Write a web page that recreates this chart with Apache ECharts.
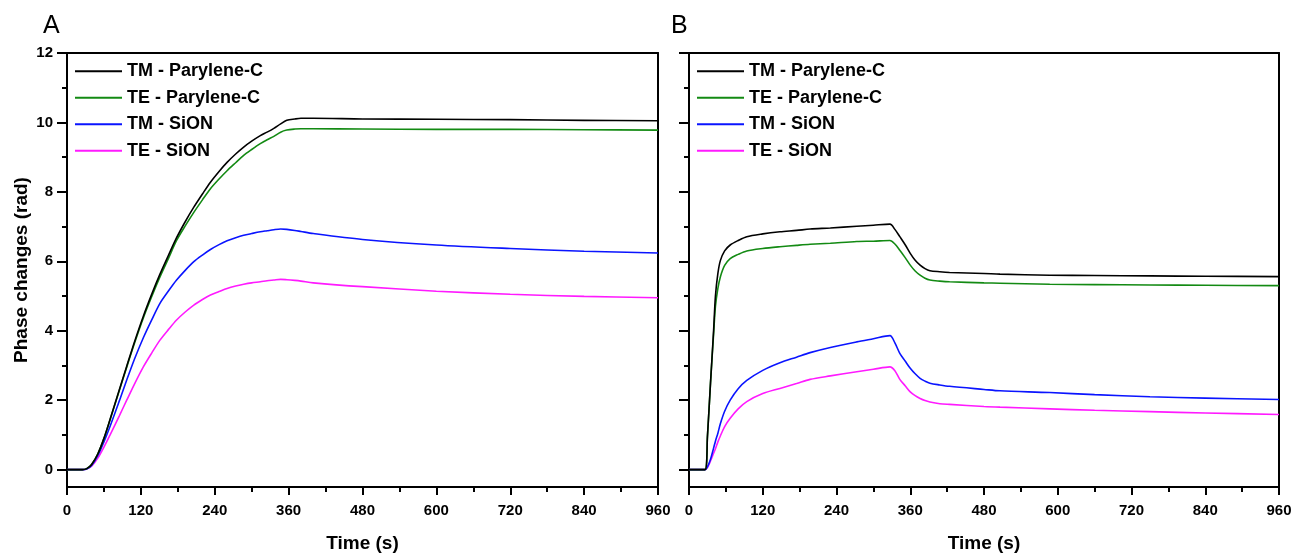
<!DOCTYPE html>
<html>
<head>
<meta charset="utf-8">
<script src="https://cdn.jsdelivr.net/npm/echarts@6/dist/echarts.min.js"></script>
<style>
html,body{margin:0;padding:0;background:#fff;}
#chart{width:1293px;height:553px;}
</style>
</head>
<body>
<div id="chart"></div>
<script>
// ---------- Data ----------
const seriesNames = ['TM - Parylene-C', 'TE - Parylene-C', 'TM - SiON', 'TE - SiON'];
const xTicks = [0, 120, 240, 360, 480, 600, 720, 840, 960];
const yTicks = [0, 2, 4, 6, 8, 10, 12];
const yMinorTicks = [1, 3, 5, 7, 9, 11];

// Panel A time (s)
const tA = [0, 25, 32, 40, 50, 60, 70, 85, 97, 110, 124, 138, 151, 165, 178, 192, 206, 220, 233, 247, 260, 274, 287, 300, 314, 325, 336, 347, 357, 370, 380, 400, 480, 600, 720, 840, 960];
const tmParyleneA = [0, 0, 0.03, 0.15, 0.45, 0.9, 1.45, 2.3, 2.98, 3.7, 4.42, 5.07, 5.63, 6.18, 6.68, 7.14, 7.56, 7.94, 8.28, 8.59, 8.85, 9.09, 9.29, 9.46, 9.62, 9.72, 9.83, 9.96, 10.06, 10.1, 10.12, 10.12, 10.1, 10.09, 10.08, 10.06, 10.05];
const teParyleneA = [0, 0, 0.03, 0.15, 0.45, 0.9, 1.44, 2.28, 2.95, 3.66, 4.37, 5.0, 5.55, 6.09, 6.6, 7.02, 7.41, 7.77, 8.09, 8.37, 8.61, 8.84, 9.05, 9.22, 9.39, 9.5, 9.6, 9.72, 9.78, 9.81, 9.82, 9.82, 9.81, 9.8, 9.8, 9.79, 9.78];
const tmSiONA = [0, 0, 0.02, 0.12, 0.4, 0.8, 1.25, 1.98, 2.58, 3.2, 3.8, 4.33, 4.79, 5.15, 5.46, 5.74, 5.99, 6.18, 6.34, 6.48, 6.59, 6.68, 6.75, 6.8, 6.85, 6.88, 6.91, 6.93, 6.92, 6.89, 6.86, 6.8, 6.63, 6.47, 6.37, 6.29, 6.24];
const teSiONA = [0, 0, 0.02, 0.1, 0.33, 0.65, 1.0, 1.55, 2.0, 2.48, 2.96, 3.37, 3.73, 4.04, 4.31, 4.54, 4.74, 4.9, 5.03, 5.13, 5.22, 5.29, 5.34, 5.38, 5.41, 5.44, 5.46, 5.48, 5.47, 5.45, 5.43, 5.38, 5.27, 5.14, 5.05, 4.99, 4.95];

// Panel B time (s)
const tB = [0, 26, 30, 35, 40, 43, 47, 51, 58, 67, 80, 94, 120, 148, 175, 197, 230, 273, 300, 327, 335, 343, 352, 360, 368, 376, 384, 392, 408, 424, 480, 506, 587, 660, 750, 840, 960];
const tmParyleneB = [0, 0, 0.95, 2.5, 4.0, 5.0, 5.65, 6.02, 6.3, 6.47, 6.6, 6.71, 6.79, 6.85, 6.89, 6.93, 6.96, 7.01, 7.04, 7.07, 6.92, 6.71, 6.47, 6.23, 6.03, 5.89, 5.79, 5.73, 5.7, 5.68, 5.65, 5.63, 5.6, 5.59, 5.58, 5.57, 5.56];
const teParyleneB = [0, 0, 0.95, 2.5, 3.9, 4.7, 5.22, 5.55, 5.88, 6.08, 6.2, 6.3, 6.37, 6.42, 6.46, 6.49, 6.52, 6.57, 6.58, 6.6, 6.5, 6.32, 6.1, 5.89, 5.72, 5.6, 5.51, 5.46, 5.43, 5.41, 5.38, 5.37, 5.34, 5.33, 5.32, 5.31, 5.3];
const tmSiONB = [0, 0, 0.08, 0.3, 0.62, 0.82, 1.05, 1.32, 1.68, 2.0, 2.33, 2.57, 2.86, 3.08, 3.24, 3.37, 3.52, 3.68, 3.77, 3.86, 3.65, 3.35, 3.12, 2.92, 2.76, 2.63, 2.55, 2.49, 2.44, 2.4, 2.31, 2.27, 2.22, 2.16, 2.1, 2.06, 2.02];
const teSiONB = [0, 0, 0.06, 0.25, 0.47, 0.6, 0.8, 0.97, 1.24, 1.48, 1.75, 1.96, 2.19, 2.34, 2.48, 2.6, 2.7, 2.82, 2.89, 2.96, 2.85, 2.6, 2.41, 2.24, 2.13, 2.05, 1.99, 1.95, 1.9, 1.88, 1.82, 1.8, 1.75, 1.71, 1.67, 1.63, 1.59];

const colors = ['#000000', '#138a13', '#0a14ff', '#ff1aff'];

// ---------- Chart ----------
const FONT = '"Liberation Sans", Arial, Helvetica, sans-serif';
const zip = (t, v) => t.map((x, i) => [x, v[i]]);
const panelA = [tmParyleneA, teParyleneA, tmSiONA, teSiONA];
const panelB = [tmParyleneB, teParyleneB, tmSiONB, teSiONB];

const chart = echarts.init(document.getElementById('chart'), null, {renderer: 'canvas'});

const axisLine = {show: true, onZero: false, lineStyle: {color: '#000', width: 2}};
function xBottom(grid) {
  return {
    type: 'value', gridIndex: grid, position: 'bottom', min: 0, max: 960, interval: 120,
    axisLine: axisLine,
    axisTick: {show: true, length: 8, lineStyle: {color: '#000', width: 2}},
    minorTick: {show: true, splitNumber: 2, length: 5, lineStyle: {color: '#000', width: 2}},
    axisLabel: {color: '#000', fontFamily: FONT, fontWeight: 'bold', fontSize: 15, margin: 16, hideOverlap: false, showMinLabel: true, showMaxLabel: true},
    splitLine: {show: false},
    name: 'Time (s)', nameLocation: 'middle', nameGap: 47,
    nameTextStyle: {color: '#000', fontFamily: FONT, fontWeight: 'bold', fontSize: 19}
  };
}
function xTop(grid) {
  return {
    type: 'value', gridIndex: grid, position: 'top', min: 0, max: 960,
    axisLine: axisLine, axisTick: {show: false}, axisLabel: {show: false}, splitLine: {show: false}
  };
}
function yLeft(grid, withLabels) {
  return {
    type: 'value', gridIndex: grid, position: 'left', min: -0.5, max: 12,
    axisLine: axisLine,
    axisTick: {show: true, length: 10, customValues: yTicks, lineStyle: {color: '#000', width: 2}},
    axisLabel: {show: withLabels, customValues: yTicks, color: '#000', fontFamily: FONT, fontWeight: 'bold', fontSize: 15, margin: 14},
    splitLine: {show: false},
    name: withLabels ? 'Phase changes (rad)' : '', nameLocation: 'middle', nameGap: 36,
    nameTextStyle: {color: '#000', fontFamily: FONT, fontWeight: 'bold', fontSize: 19}
  };
}
function yMinor(grid) {
  return {
    type: 'value', gridIndex: grid, position: 'left', min: -0.5, max: 12,
    axisLine: {show: false, onZero: false},
    axisTick: {show: true, length: 5, customValues: yMinorTicks, lineStyle: {color: '#000', width: 2}},
    axisLabel: {show: false}, splitLine: {show: false}
  };
}
function yRight(grid) {
  return {
    type: 'value', gridIndex: grid, position: 'right', min: -0.5, max: 12,
    axisLine: axisLine, axisTick: {show: false}, axisLabel: {show: false}, splitLine: {show: false}
  };
}

const series = [];
[panelA, panelB].forEach((panel, p) => {
  const t = p === 0 ? tA : tB;
  panel.forEach((vals, i) => {
    series.push({
      name: seriesNames[i], type: 'line', xAxisIndex: p * 2, yAxisIndex: p * 3,
      data: zip(t, vals), symbol: 'none', showSymbol: false, smooth: 0.3,
      lineStyle: {color: colors[i], width: 1.6}, itemStyle: {color: colors[i]},
      animation: false, z: 4 - i
    });
  });
});

function legend(left) {
  return {
    left: left, top: 58, orient: 'vertical', padding: 0, icon: 'rect',
    itemWidth: 47, itemHeight: 2, itemGap: 0,
    data: seriesNames, selectedMode: false,
    textStyle: {color: '#000', fontFamily: FONT, fontWeight: 'bold', fontSize: 18, lineHeight: 26.5}
  };
}

chart.setOption({
  animation: false,
  backgroundColor: '#fff',
  grid: [
    {left: 67, right: 635, top: 53, bottom: 66, containLabel: false, outerBoundsMode: 'none'},
    {left: 689, right: 14, top: 53, bottom: 66, containLabel: false, outerBoundsMode: 'none'}
  ],
  xAxis: [xBottom(0), xTop(0), xBottom(1), xTop(1)],
  yAxis: [yLeft(0, true), yMinor(0), yRight(0), yLeft(1, false), yMinor(1), yRight(1)],
  legend: [legend(75), legend(697)],
  graphic: [
    {type: 'text', left: 43, top: 14, style: {text: 'A', font: '25px ' + FONT, fill: '#000'}},
    {type: 'text', left: 671, top: 14, style: {text: 'B', font: '25px ' + FONT, fill: '#000'}}
  ],
  series: series
});
</script>
</body>
</html>
